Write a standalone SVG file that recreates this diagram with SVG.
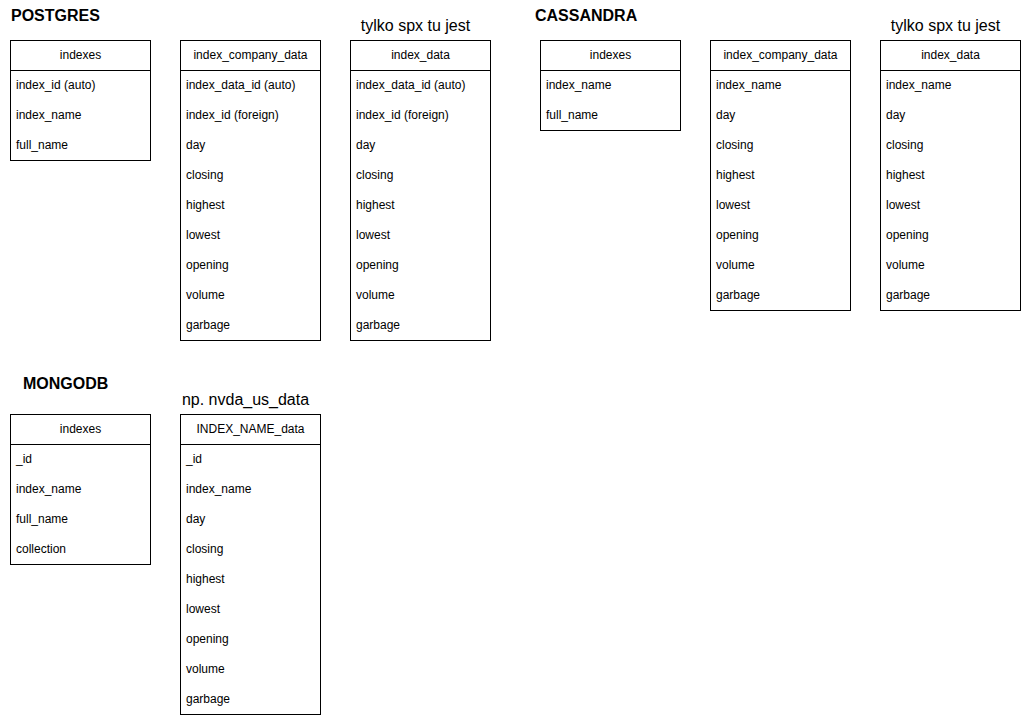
<svg xmlns="http://www.w3.org/2000/svg" width="1021" height="715" viewBox="0 0 1021 715">
<style>
.bg{fill:#ffffff}
.box{fill:#ffffff;stroke:#000000;stroke-width:1}
.sep{stroke:#000000;stroke-width:1;fill:none}
.hd{font-family:"Liberation Sans",Arial,sans-serif;font-size:12px;fill:#000000;text-anchor:middle}
.row{font-family:"Liberation Sans",Arial,sans-serif;font-size:12px;fill:#000000}
.title{font-family:"Liberation Sans",Arial,sans-serif;font-size:16px;font-weight:bold;fill:#000000}
.note{font-family:"Liberation Sans",Arial,sans-serif;font-size:16px;fill:#000000;text-anchor:middle}
</style>
<rect class="bg" x="0" y="0" width="1021" height="715"/>
<g id="labels">
<text class="title" x="11" y="21">POSTGRES</text>
<text class="title" x="535" y="21">CASSANDRA</text>
<text class="title" x="23" y="389">MONGODB</text>
<text class="note" x="415.5" y="31">tylko spx tu jest</text>
<text class="note" x="945.5" y="31">tylko spx tu jest</text>
<text class="note" x="245.5" y="405">np. nvda_us_data</text>
</g>
<g id="pg-indexes">
<rect class="box" x="10.5" y="40.5" width="140" height="120"/>
<line class="sep" x1="10.5" y1="70.5" x2="150.5" y2="70.5"/>
<text class="hd" x="80.5" y="59">indexes</text>
<text class="row" x="16" y="89">index_id (auto)</text>
<text class="row" x="16" y="119">index_name</text>
<text class="row" x="16" y="149">full_name</text>
</g>
<g id="pg-index-company-data">
<rect class="box" x="180.5" y="40.5" width="140" height="300"/>
<line class="sep" x1="180.5" y1="70.5" x2="320.5" y2="70.5"/>
<text class="hd" x="250.5" y="59">index_company_data</text>
<text class="row" x="186" y="89">index_data_id (auto)</text>
<text class="row" x="186" y="119">index_id (foreign)</text>
<text class="row" x="186" y="149">day</text>
<text class="row" x="186" y="179">closing</text>
<text class="row" x="186" y="209">highest</text>
<text class="row" x="186" y="239">lowest</text>
<text class="row" x="186" y="269">opening</text>
<text class="row" x="186" y="299">volume</text>
<text class="row" x="186" y="329">garbage</text>
</g>
<g id="pg-index-data">
<rect class="box" x="350.5" y="40.5" width="140" height="300"/>
<line class="sep" x1="350.5" y1="70.5" x2="490.5" y2="70.5"/>
<text class="hd" x="420.5" y="59">index_data</text>
<text class="row" x="356" y="89">index_data_id (auto)</text>
<text class="row" x="356" y="119">index_id (foreign)</text>
<text class="row" x="356" y="149">day</text>
<text class="row" x="356" y="179">closing</text>
<text class="row" x="356" y="209">highest</text>
<text class="row" x="356" y="239">lowest</text>
<text class="row" x="356" y="269">opening</text>
<text class="row" x="356" y="299">volume</text>
<text class="row" x="356" y="329">garbage</text>
</g>
<g id="cs-indexes">
<rect class="box" x="540.5" y="40.5" width="140" height="90"/>
<line class="sep" x1="540.5" y1="70.5" x2="680.5" y2="70.5"/>
<text class="hd" x="610.5" y="59">indexes</text>
<text class="row" x="546" y="89">index_name</text>
<text class="row" x="546" y="119">full_name</text>
</g>
<g id="cs-index-company-data">
<rect class="box" x="710.5" y="40.5" width="140" height="270"/>
<line class="sep" x1="710.5" y1="70.5" x2="850.5" y2="70.5"/>
<text class="hd" x="780.5" y="59">index_company_data</text>
<text class="row" x="716" y="89">index_name</text>
<text class="row" x="716" y="119">day</text>
<text class="row" x="716" y="149">closing</text>
<text class="row" x="716" y="179">highest</text>
<text class="row" x="716" y="209">lowest</text>
<text class="row" x="716" y="239">opening</text>
<text class="row" x="716" y="269">volume</text>
<text class="row" x="716" y="299">garbage</text>
</g>
<g id="cs-index-data">
<rect class="box" x="880.5" y="40.5" width="140" height="270"/>
<line class="sep" x1="880.5" y1="70.5" x2="1020.5" y2="70.5"/>
<text class="hd" x="950.5" y="59">index_data</text>
<text class="row" x="886" y="89">index_name</text>
<text class="row" x="886" y="119">day</text>
<text class="row" x="886" y="149">closing</text>
<text class="row" x="886" y="179">highest</text>
<text class="row" x="886" y="209">lowest</text>
<text class="row" x="886" y="239">opening</text>
<text class="row" x="886" y="269">volume</text>
<text class="row" x="886" y="299">garbage</text>
</g>
<g id="mg-indexes">
<rect class="box" x="10.5" y="414.5" width="140" height="150"/>
<line class="sep" x1="10.5" y1="444.5" x2="150.5" y2="444.5"/>
<text class="hd" x="80.5" y="433">indexes</text>
<text class="row" x="16" y="463">_id</text>
<text class="row" x="16" y="493">index_name</text>
<text class="row" x="16" y="523">full_name</text>
<text class="row" x="16" y="553">collection</text>
</g>
<g id="mg-index-name-data">
<rect class="box" x="180.5" y="414.5" width="140" height="300"/>
<line class="sep" x1="180.5" y1="444.5" x2="320.5" y2="444.5"/>
<text class="hd" x="250.5" y="433">INDEX_NAME_data</text>
<text class="row" x="186" y="463">_id</text>
<text class="row" x="186" y="493">index_name</text>
<text class="row" x="186" y="523">day</text>
<text class="row" x="186" y="553">closing</text>
<text class="row" x="186" y="583">highest</text>
<text class="row" x="186" y="613">lowest</text>
<text class="row" x="186" y="643">opening</text>
<text class="row" x="186" y="673">volume</text>
<text class="row" x="186" y="703">garbage</text>
</g>
<g id="connectors"></g>
</svg>
